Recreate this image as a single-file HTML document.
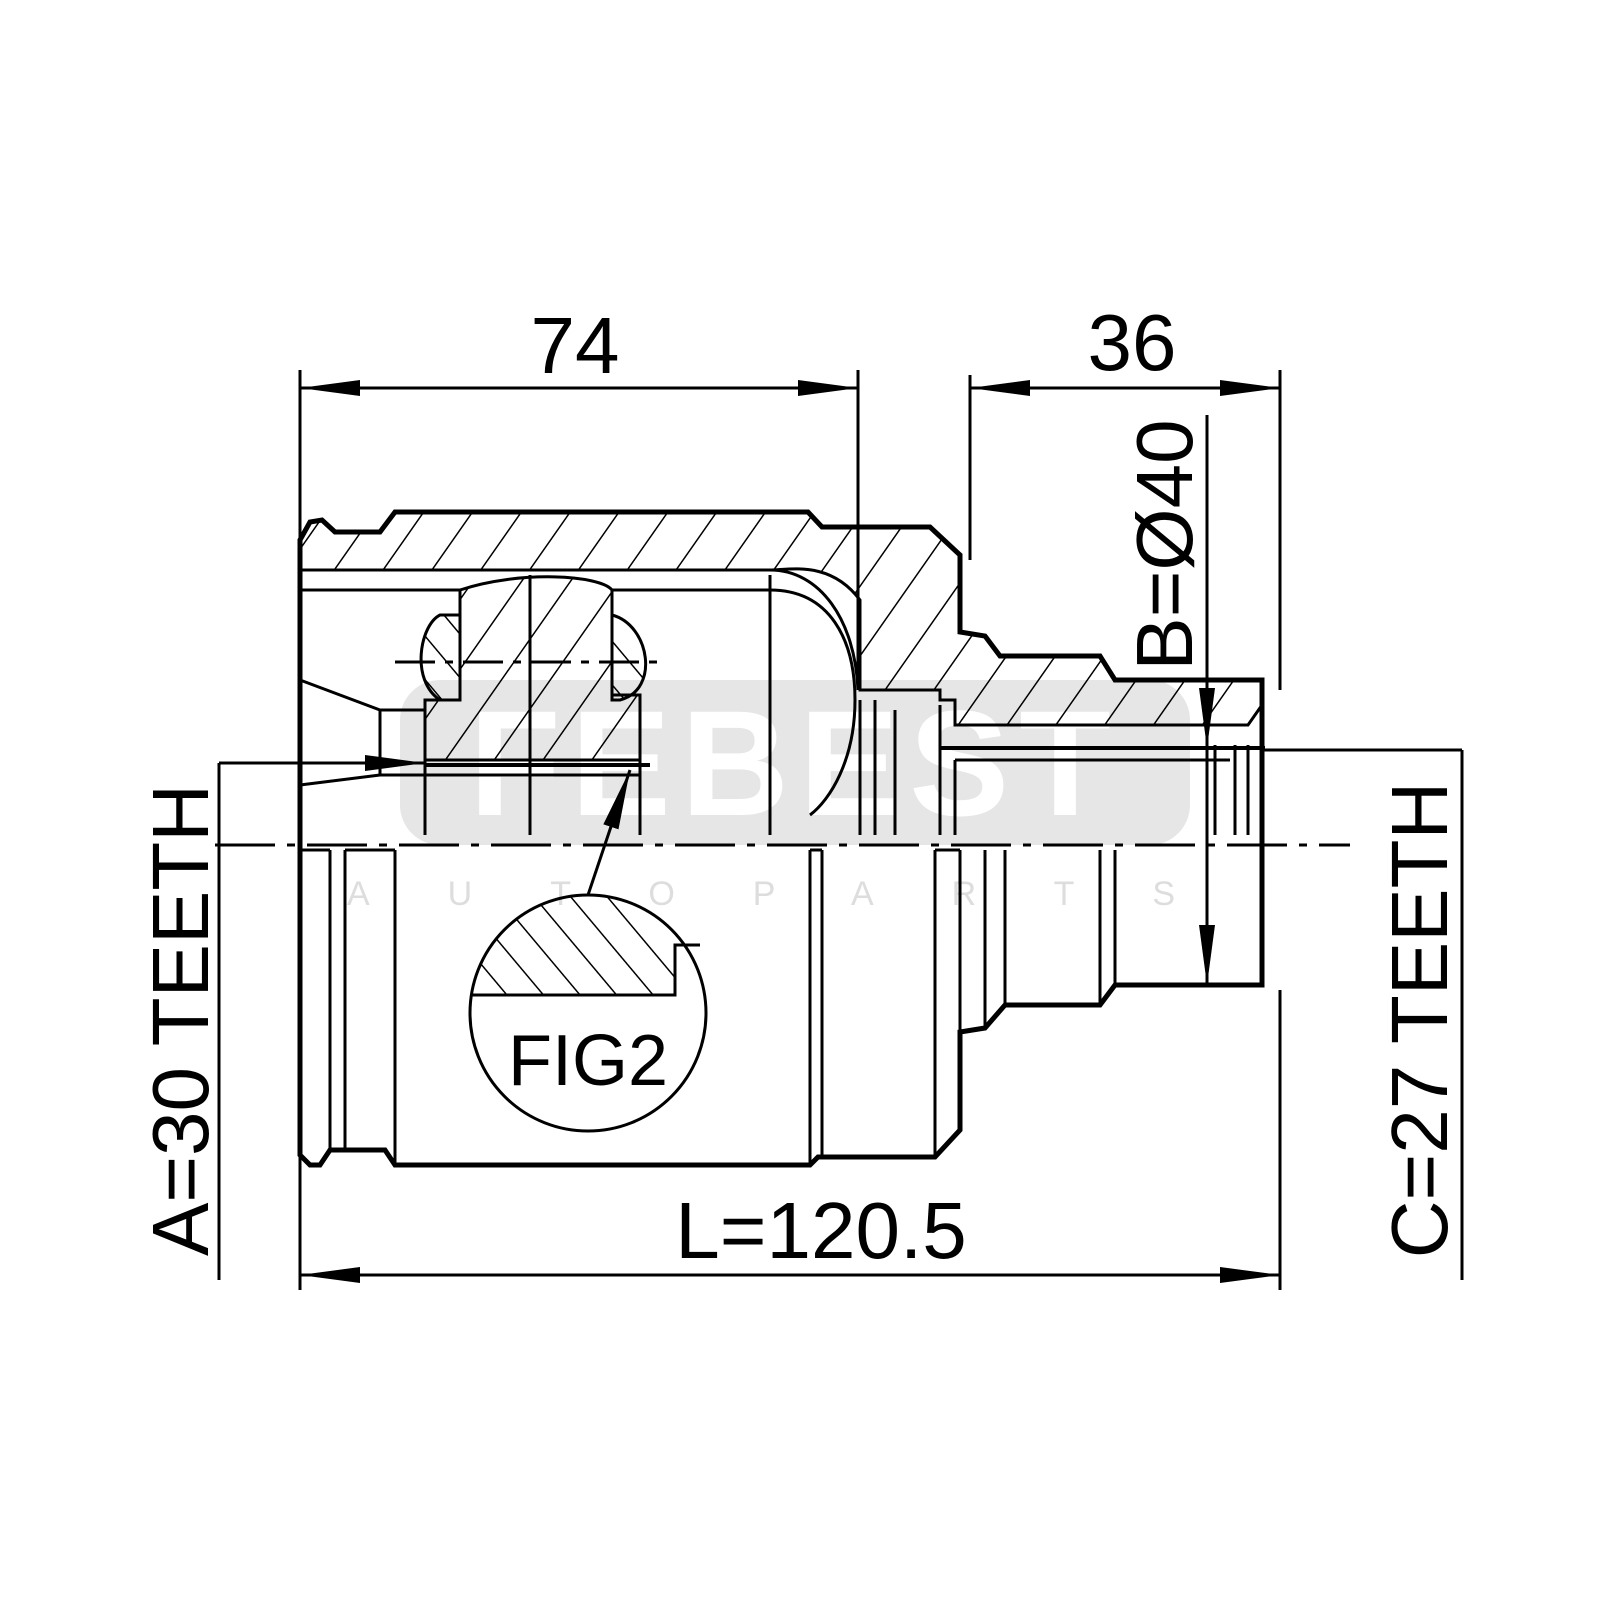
<!DOCTYPE html>
<html><head><style>html,body{margin:0;padding:0;background:#fff}svg{display:block}</style></head>
<body>
<svg width="1600" height="1600" viewBox="0 0 1600 1600" xmlns="http://www.w3.org/2000/svg" font-family="Liberation Sans, sans-serif">
<defs>
<pattern id="h" patternUnits="userSpaceOnUse" width="40" height="40" patternTransform="rotate(35)">
<line x1="0" y1="0" x2="0" y2="40" stroke="#000" stroke-width="3"/>
</pattern>
<pattern id="h2" patternUnits="userSpaceOnUse" width="28" height="28" patternTransform="rotate(-40)">
<line x1="0" y1="0" x2="0" y2="28" stroke="#000" stroke-width="3"/>
</pattern>
<clipPath id="fc"><circle cx="588" cy="1013" r="118"/></clipPath>
<marker id="a" markerWidth="60" markerHeight="20" refX="60" refY="10" orient="auto-start-reverse" markerUnits="userSpaceOnUse">
<path d="M0,2 L60,10 L0,18 Z" fill="#000"/></marker>
</defs>
<rect x="400" y="680" width="790" height="165" rx="40" fill="#e6e6e6"/>
<text x="795" y="815" font-size="150" font-weight="bold" fill="#fff" text-anchor="middle" letter-spacing="10">FEBEST</text>
<text x="800" y="905" font-size="34" fill="#ddd" text-anchor="middle" letter-spacing="78">AUTOPARTS</text>

<g stroke="#000" fill="none" stroke-width="3">
<path d="M300,540 L310,522 L322,520 L335,532 L380,532 L395,512 L808,512 L822,527 L930,527 L960,555 L960,632 L985,636 L1000,656 L1100,656 L1115,680 L1262,680 L1262,705 L1248,725 L955,725 L955,700 L940,700 L940,690 L860,690 L860,600 C830,560 790,570 770,570 L300,570 Z" fill="url(#h)"/>
<path d="M460,590 C520,570 600,575 612,590 L612,695 L640,695 L640,760 L425,760 L425,700 L460,700 Z" fill="url(#h)"/>
<path d="M440,615 C420,625 410,680 440,700 L460,700 L460,615 Z" fill="url(#h2)"/>
<path d="M612,615 C650,625 660,690 620,700 L612,700 Z" fill="url(#h2)"/>
</g>
<g stroke="#000" fill="none" stroke-width="5">
<path d="M300,540 L310,522 L322,520 L335,532 L380,532 L395,512 L808,512 L822,527 L930,527 L960,555 L960,632 L985,636 L1000,656 L1100,656 L1115,680 L1262,680 L1262,985 L1115,985 L1100,1005 L1005,1005 L985,1028 L960,1032 L960,1130 L935,1157 L818,1157 L810,1165 L395,1165 L385,1150 L330,1150 L320,1165 L310,1165 L300,1155 Z"/>
</g>
<g stroke="#000" fill="none" stroke-width="3">
<path d="M300,570 L770,570 C820,570 855,620 858,690"/>
<path d="M300,590 L460,590 L460,700"/>
<path d="M612,590 L770,590 C830,590 855,640 855,700 C855,760 830,800 810,815"/>
<line x1="770" y1="575" x2="770" y2="835"/>
<path d="M300,680 L380,710 L425,710"/>
<line x1="380" y1="710" x2="380" y2="775"/>
<path d="M300,785 L380,775 L425,775"/>
<line x1="425" y1="710" x2="425" y2="835"/>
<line x1="640" y1="700" x2="640" y2="835"/>
<line x1="425" y1="775" x2="640" y2="775"/>
<line x1="530" y1="575" x2="530" y2="835"/>
<line x1="860" y1="700" x2="860" y2="835"/><line x1="875" y1="700" x2="875" y2="835"/><line x1="895" y1="710" x2="895" y2="835"/>
<line x1="940" y1="705" x2="940" y2="835"/>
<line x1="955" y1="760" x2="1230" y2="760"/>
<line x1="955" y1="760" x2="955" y2="835"/>
<line x1="1215" y1="745" x2="1215" y2="835"/><line x1="1235" y1="745" x2="1235" y2="835"/><line x1="1248" y1="745" x2="1248" y2="835"/>
<line x1="940" y1="748" x2="1265" y2="748" stroke-width="4"/>
<line x1="425" y1="765" x2="650" y2="765" stroke-width="4"/>
<line x1="330" y1="850" x2="330" y2="1150"/><line x1="345" y1="850" x2="345" y2="1150"/>
<line x1="395" y1="850" x2="395" y2="1165"/>
<line x1="810" y1="850" x2="810" y2="1165"/><line x1="822" y1="850" x2="822" y2="1157"/>
<line x1="935" y1="850" x2="935" y2="1157"/><line x1="960" y1="850" x2="960" y2="1032"/>
<line x1="985" y1="850" x2="985" y2="1028"/><line x1="1005" y1="850" x2="1005" y2="1005"/>
<line x1="1100" y1="850" x2="1100" y2="1005"/><line x1="1115" y1="850" x2="1115" y2="985"/>
<line x1="300" y1="850" x2="330" y2="850"/><line x1="345" y1="850" x2="395" y2="850"/>
<line x1="810" y1="850" x2="822" y2="850"/><line x1="935" y1="850" x2="960" y2="850"/>
<line x1="215" y1="845" x2="1350" y2="845" stroke-dasharray="60,12,8,12"/>
<line x1="395" y1="662" x2="660" y2="662" stroke-dasharray="40,10,8,10"/>
<circle cx="588" cy="1013" r="118"/>
<path d="M470,995 L675,995 L675,945 L710,945 L710,880 L470,880 Z" fill="url(#h2)" clip-path="url(#fc)"/>
<path d="M484,995 L675,995 L675,945 L700,945" />
<line x1="588" y1="895" x2="630" y2="770" marker-end="url(#a)"/>
<line x1="300" y1="370" x2="300" y2="1290"/>
<line x1="858" y1="370" x2="858" y2="690"/>
<line x1="970" y1="375" x2="970" y2="560"/>
<line x1="1280" y1="370" x2="1280" y2="690"/>
<line x1="1280" y1="990" x2="1280" y2="1290"/>
<line x1="219" y1="763" x2="219" y2="1280"/>
<line x1="1260" y1="750" x2="1462" y2="750"/>
<line x1="1462" y1="750" x2="1462" y2="1280"/>
<line x1="300" y1="388" x2="858" y2="388" marker-start="url(#a)" marker-end="url(#a)"/>
<line x1="970" y1="388" x2="1280" y2="388" marker-start="url(#a)" marker-end="url(#a)"/>
<line x1="300" y1="1275" x2="1280" y2="1275" marker-start="url(#a)" marker-end="url(#a)"/>
<line x1="1207" y1="415" x2="1207" y2="690" />
<line x1="1207" y1="690" x2="1207" y2="748" marker-end="url(#a)"/>
<line x1="1207" y1="748" x2="1207" y2="985" marker-end="url(#a)"/>
<line x1="219" y1="763" x2="425" y2="763" marker-end="url(#a)"/>
</g>
<g fill="#000" font-size="80">
<text x="575" y="373" text-anchor="middle">74</text>
<text x="1132" y="370" text-anchor="middle">36</text>
<text x="821" y="1258" text-anchor="middle">L=120.5</text>
<text x="588" y="1085" font-size="72" text-anchor="middle">FIG2</text>
<text transform="translate(208,1020) rotate(-90)" text-anchor="middle">A=30 TEETH</text>
<text transform="translate(1447,1020) rotate(-90)" text-anchor="middle">C=27 TEETH</text>
<text transform="translate(1192,545) rotate(-90)" text-anchor="middle">B=Ø40</text>
</g>
</svg>
</body></html>
